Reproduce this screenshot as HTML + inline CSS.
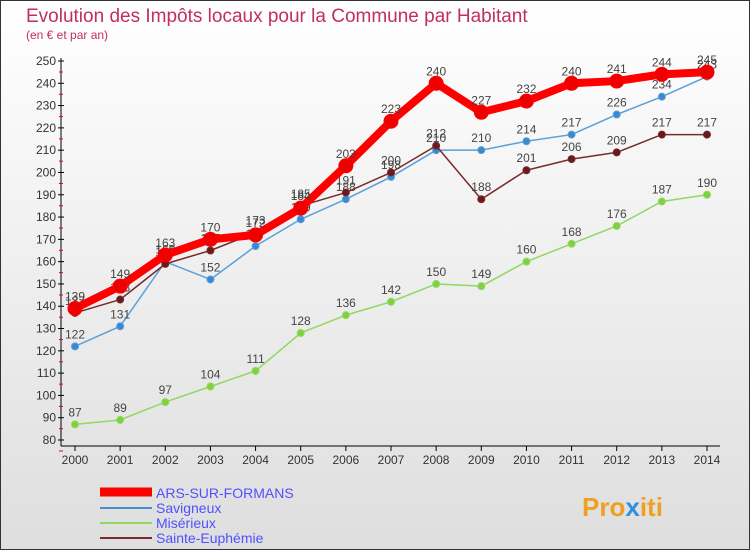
<!DOCTYPE html>
<html><head><meta charset="utf-8"><style>
body{margin:0;width:750px;height:550px;overflow:hidden;font-family:"Liberation Sans",sans-serif}
</style></head><body>
<svg width="750" height="550" xmlns="http://www.w3.org/2000/svg">
<defs><linearGradient id="bg" x1="0" y1="0" x2="0" y2="1"><stop offset="0" stop-color="#ffffff"/><stop offset="1" stop-color="#dedede"/></linearGradient></defs>
<rect x="0.5" y="0.5" width="749" height="549" fill="url(#bg)" stroke="#333"/>
<text x="26" y="22" font-size="19" fill="#c0305a">Evolution des Impôts locaux pour la Commune par Habitant</text>
<text x="26" y="39" font-size="12" fill="#c0305a">(en € et par an)</text>
<g id="axes"></g><g id="series"></g>
<g>
<line x1="100" y1="492" x2="152" y2="492" stroke="#f00" stroke-width="9"/>
<text x="156" y="498" font-size="14" fill="#5050ff">ARS-SUR-FORMANS</text>
<line x1="100" y1="508" x2="152" y2="508" stroke="#4a90c8" stroke-width="2"/>
<text x="156" y="513" font-size="14" fill="#5050ff">Savigneux</text>
<line x1="100" y1="523" x2="152" y2="523" stroke="#90d860" stroke-width="2"/>
<text x="156" y="528" font-size="14" fill="#5050ff">Misérieux</text>
<line x1="100" y1="538" x2="152" y2="538" stroke="#7a2a2a" stroke-width="2"/>
<text x="156" y="543" font-size="14" fill="#5050ff">Sainte-Euphémie</text>
</g>
<text x="582" y="516" font-size="26" font-weight="bold" fill="#f0a020">Pro<tspan fill="#3090e0">x</tspan>iti</text>
</svg>
<script>
const years=[2000,2001,2002,2003,2004,2005,2006,2007,2008,2009,2010,2011,2012,2013,2014];
const yTicks=[80,90,100,110,120,130,140,150,160,170,180,190,200,210,220,230,240,250];
const ars=[139,149,163,170,172,184,203,223,240,227,232,240,241,244,245];
const savigneux=[122,131,160,152,167,179,188,198,210,210,214,217,226,234,243];
const miserieux=[87,89,97,104,111,128,136,142,150,149,160,168,176,187,190];
const sainte=[137,143,159,165,173,185,191,200,212,188,201,206,209,217,217];
const NS='http://www.w3.org/2000/svg';
const X=i=>75+i*(707-75)/14;
const Y=v=>440-(v-80)*(440-61)/170;
function mk(t,a,p){const e=document.createElementNS(NS,t);for(const k in a)e.setAttribute(k,a[k]);p.appendChild(e);return e;}
const ax=document.getElementById('axes');
const yl=mk('line',{x1:61,y1:58,x2:61,y2:446,stroke:'#000'},ax);


const xl=mk('line',{x1:61,y1:446,x2:720,y2:446,stroke:'#000'},ax);


yTicks.forEach(v=>{const y=Y(v);mk('line',{x1:58,y1:y,x2:64,y2:y,stroke:'#000'},ax);
mk('line',{x1:59,y1:y+11,x2:63,y2:y+11,stroke:'#e00'},ax);
const t=mk('text',{x:56,y:y+4,'font-size':12,'text-anchor':'end',fill:'#333'},ax);t.textContent=v;

});
years.forEach((yr,i)=>{mk('line',{x1:X(i),y1:446,x2:X(i),y2:451,stroke:'#000'},ax);
const t=mk('text',{x:X(i),y:464,'font-size':12,'text-anchor':'middle',fill:'#333'},ax);t.textContent=yr;

});
const sg=document.getElementById('series');
function draw(vals,name,color,w,r,dot){const g=mk('g',{},sg);


mk('polyline',{points:vals.map((v,i)=>X(i)+','+Y(v)).join(' '),fill:'none',stroke:color,'stroke-width':w,'stroke-linejoin':'round'},g);
vals.forEach((v,i)=>{const c=mk('circle',{cx:X(i),cy:Y(v),r:r,fill:dot,stroke:color,'stroke-width':1},g);


const t=mk('text',{x:X(i),y:Y(v)-8,'font-size':12,'text-anchor':'middle',fill:'#444'},g);t.textContent=v;

});}
draw(miserieux,'miserieux','#90d860',1.5,3.5,'#80d040');
draw(savigneux,'savigneux','#5aa0d8',1.5,3.5,'#3a88d0');
draw(sainte,'sainte-euphemie','#7a2a2a',1.5,3.5,'#6a1a1a');
draw(ars,'ars-sur-formans','#f00',8,7,'#e00');
</script>
</body></html>
